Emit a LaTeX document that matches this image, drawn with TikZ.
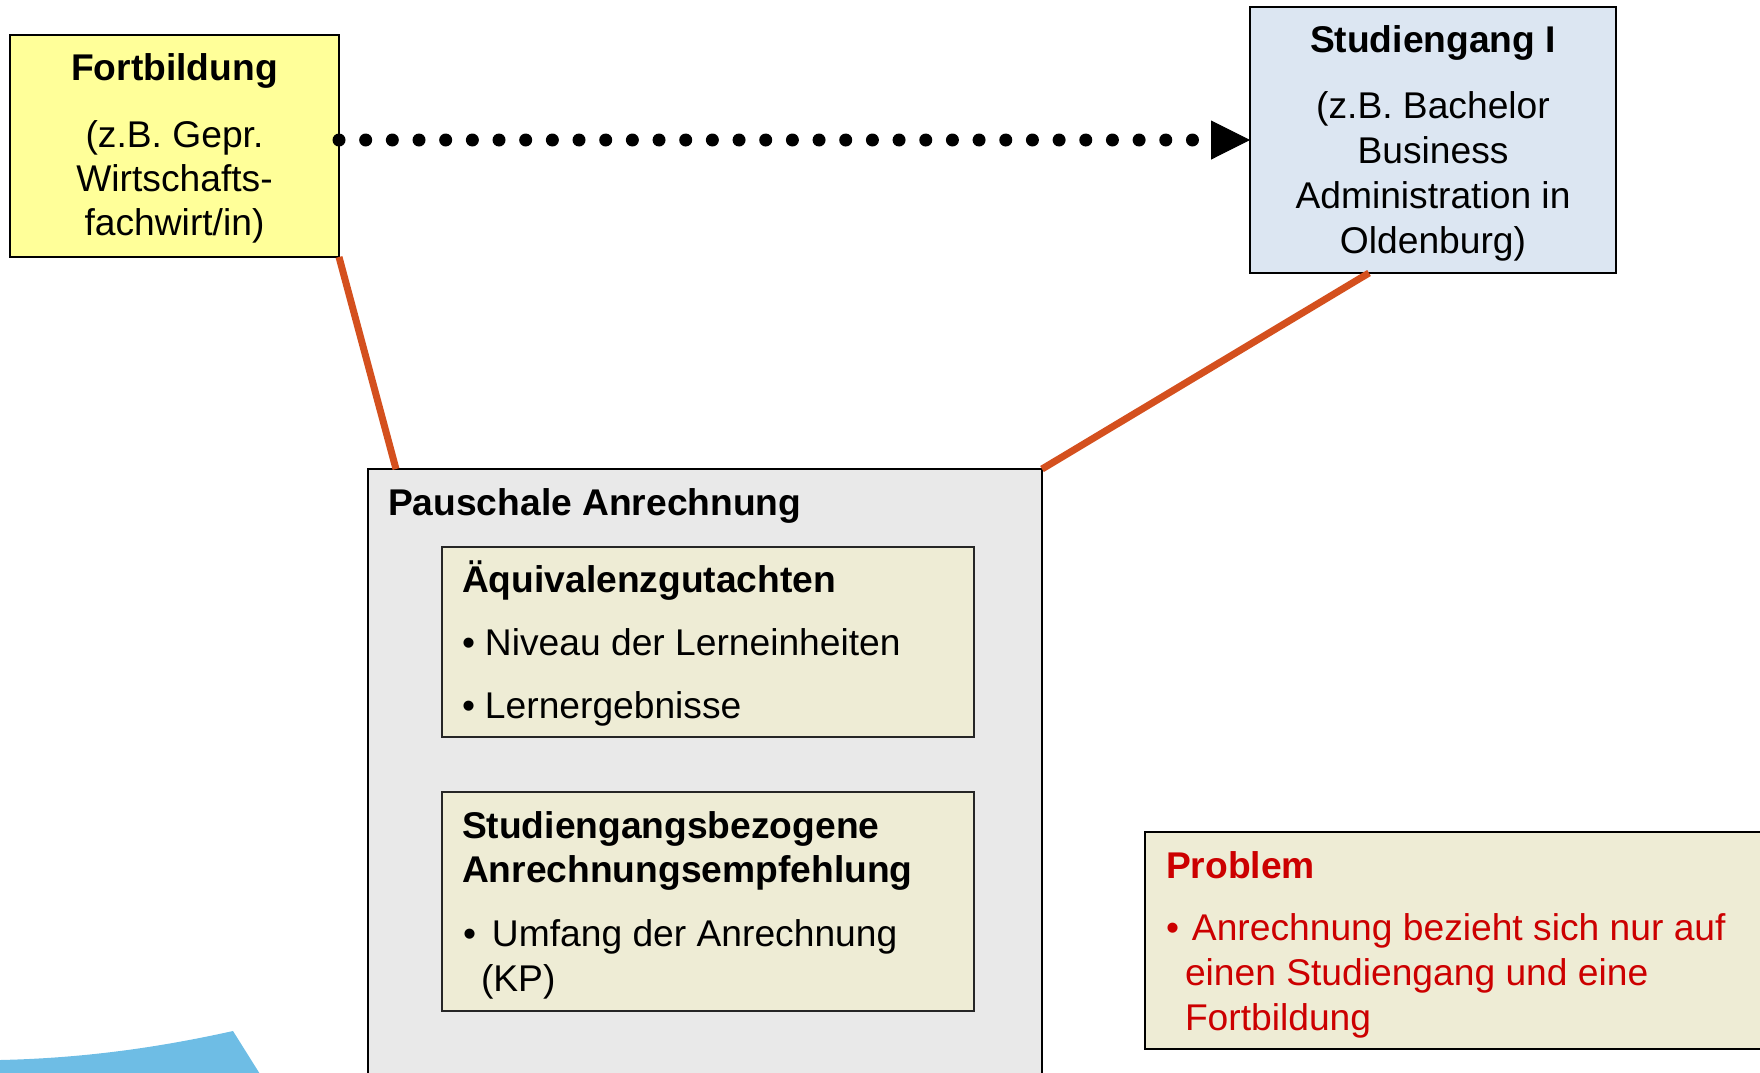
\documentclass[tikz,border=0pt]{standalone}
\usepackage{fontspec}
\setmainfont{Liberation Sans}
\usetikzlibrary{arrows.meta,calc}
\definecolor{fortY}{HTML}{FFFF99}
\definecolor{studB}{HTML}{DCE6F2}
\definecolor{pauG}{HTML}{E9E9E9}
\definecolor{tanF}{HTML}{EEECD5}
\definecolor{probR}{HTML}{CC0000}
\definecolor{linkO}{HTML}{D4501E}
\definecolor{arcB}{HTML}{6EBDE5}
\begin{document}
\begin{tikzpicture}[x=1pt,y=-1pt,
  boxs/.style={draw=black, line width=2pt, inner sep=0pt, outer sep=0pt},
  txt/.style={inner sep=0pt, outer sep=0pt, font=\fontsize{37.2}{44}\selectfont},
  ttl/.style={inner sep=0pt, outer sep=0pt, font=\fontsize{37.2}{44}\selectfont\bfseries},
  link/.style={draw=linkO, line width=7pt},
  dotline/.style={line width=13pt, line cap=round, dash pattern=on 0pt off 26.67pt,
    -{Triangle[length=39pt,width=39pt,line width=1pt]}}]
\useasboundingbox (0,0) rectangle (1760,1072);
\clip (0,0) rectangle (1760,1072);

% blue arc fragment bottom left
\fill[arcB] (0,1060) .. controls (90,1058) and (165,1046) .. (233,1031) -- (270,1090) -- (0,1090) -- cycle;

% boxes
\node[boxs, fill=fortY, minimum width=329pt, minimum height=222pt] (fort) at (174.5,146) {};
\node[boxs, fill=studB, minimum width=366pt, minimum height=266pt] (stud) at (1433,140) {};
\node[boxs, fill=pauG, minimum width=674pt, minimum height=651pt] (pau) at (705,794.5) {};
\node[boxs, draw=black!85, fill=tanF, minimum width=532pt, minimum height=190pt] (aeq) at (708,642) {};
\node[boxs, draw=black!85, fill=tanF, minimum width=532pt, minimum height=219pt] (sgb) at (708,901.5) {};
\node[boxs, fill=tanF, minimum width=645pt, minimum height=217pt] (prob) at (1467.5,940.5) {};

% connectors
\draw[link] (fort.south east) -- ($(pau.north west)+(28,0)$);
\draw[link] ($(stud.south)+(-64,0)$) -- (pau.north east);
\draw[dotline] (fort.east |- stud.west) -- (stud.west);

% Fortbildung text
\node[ttl, anchor=base] (fortT) at (174.5,80) {Fortbildung};
\node[txt, anchor=base] (fortA) at (174.5,147) {(z.B. Gepr.};
\node[txt, anchor=base] (fortB) at (174.5,191) {Wirtschafts-};
\node[txt, anchor=base] (fortC) at (174.5,235.5) {fachwirt/in)};

% Studiengang text
\node[ttl, anchor=base] (studT) at (1433,52) {Studiengang I};
\node[txt, anchor=base] (studA) at (1433,118) {(z.B. Bachelor};
\node[txt, anchor=base] (studB) at (1433,163) {Business};
\node[txt, anchor=base] (studC) at (1433,208) {Administration in};
\node[txt, anchor=base] (studD) at (1433,253) {Oldenburg)};

% Pauschale text
\node[ttl, anchor=base west] (pauT) at (388,515) {Pauschale Anrechnung};
\node[ttl, anchor=base west] (aeqT) at (462,592) {Äquivalenzgutachten};
\node[txt, anchor=base west] (aeqA) at (462,655) {\makebox[23pt][l]{•}Niveau der Lerneinheiten};
\node[txt, anchor=base west] (aeqB) at (462,718) {\makebox[23pt][l]{•}Lernergebnisse};
\node[ttl, anchor=base west] (sgbT) at (462,838) {Studiengangsbezogene};
\node[ttl, anchor=base west] (sgbU) at (462,882) {Anrechnungsempfehlung};
\node[txt, anchor=base west] (sgbA) at (463,946) {\makebox[29pt][l]{•}Umfang der Anrechnung};
\node[txt, anchor=base west] (sgbB) at (481,991) {(KP)};

% Problem text
\node[ttl, anchor=base west, text=probR] (probT) at (1166,878) {Problem};
\node[txt, anchor=base west, text=probR] (probA) at (1166,940) {\makebox[26pt][l]{•}Anrechnung bezieht sich nur auf};
\node[txt, anchor=base west, text=probR] (probB) at (1185,985) {einen Studiengang und eine};
\node[txt, anchor=base west, text=probR] (probC) at (1185,1030) {Fortbildung};
\end{tikzpicture}
\end{document}
